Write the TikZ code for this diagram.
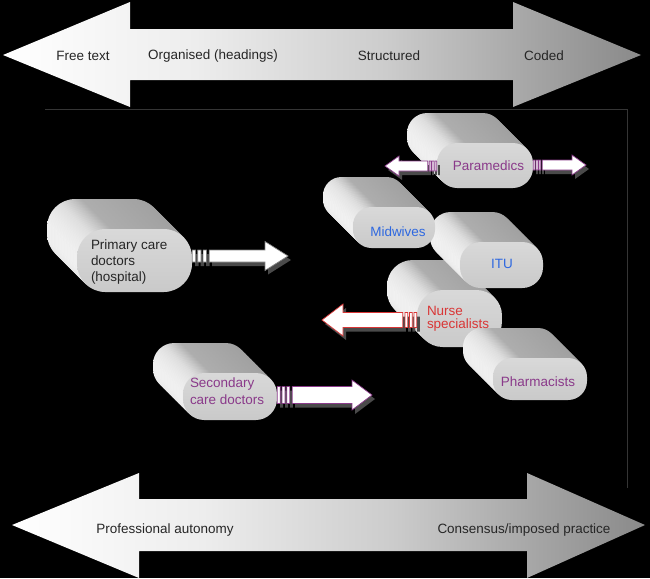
\documentclass[tikz,border=0pt]{standalone}
\usepackage{fontspec}
\setmainfont{Liberation Sans}
\usepackage{xcolor}
\usepackage{tikz}
\usetikzlibrary{calc,positioning}

\definecolor{ink}{HTML}{262626}
\definecolor{plum}{HTML}{8A3A8A}
\definecolor{sky}{HTML}{2E68E0}
\definecolor{brick}{HTML}{D93636}
\definecolor{shadowgrey}{HTML}{4A4A4A}
\definecolor{framegrey}{HTML}{353535}

% one pixel of the original figure
\newlength{\pxu}
\setlength{\pxu}{0.03cm}

\pgfdeclarehorizontalshading{bandshade}{100bp}{color(0bp)=(white); color(25bp)=(white);
  color(40bp)=(white!93!black); color(55bp)=(white!80!black);
  color(67bp)=(white!64!black); color(75bp)=(white!54!black); color(100bp)=(white!54!black)}
\pgfdeclarehorizontalshading{pillside}{100bp}{color(0bp)=(white!94!black); color(25bp)=(white!94!black);
  color(31bp)=(white!87!black); color(40bp)=(white!68!black);
  color(75bp)=(white!62!black); color(100bp)=(white!62!black)}

\tikzset{
  band/.style={shading=bandshade},
  bandtext/.style={text=ink,inner sep=0pt,font=\fontsize{11.5}{14}\selectfont},
  face/.style={top color=white!85!black,bottom color=white!79!black,inner sep=0pt},
  pilltext/.style={inner sep=0pt,align=left,font=\fontsize{11.5}{14}\selectfont},
  arrface/.style={fill=white,draw=#1,line width=0.6pt},
  arrshadow/.style={fill=shadowgrey,transform canvas={shift={(3*\pxu,-4*\pxu)}}},
  frameline/.style={draw=framegrey,line width=0.8pt},
}

% extruded capsule: name, left, top, right, bottom (px)
\newcommand{\pill}[5]{%
  \pgfmathsetmacro{\pillr}{0.45*(#5-#3)}
  \foreach \off in {30,28.5,...,1.5}
    \shade[shading=pillside,rounded corners=\pillr*\pxu]
      ({#2-\off},{#3-\off}) rectangle ({#4-\off},{#5-\off});
  \node[face,minimum width={(#4-#2)*\pxu},minimum height={(#5-#3)*\pxu},
    rounded corners=\pillr*\pxu] (#1) at ({(#2+#4)/2},{(#3+#5)/2}) {};
}

% block arrow with striped tail: from, to, half body, half head, head length, bar unit
\newcommand{\arrowshape}[6]{%
  let \p1=(#1), \p2=(#2), \n1={2*(\x2>\x1)-1} in
  ({\x1},{\y2-#3*\pxu}) rectangle ({\x1+\n1*#6*\pxu},{\y2+#3*\pxu})
  ({\x1+\n1*1.6*#6*\pxu},{\y2-#3*\pxu}) rectangle ({\x1+\n1*2.6*#6*\pxu},{\y2+#3*\pxu})
  ({\x1+\n1*3.2*#6*\pxu},{\y2-#3*\pxu}) rectangle ({\x1+\n1*4.2*#6*\pxu},{\y2+#3*\pxu})
  ({\x1+\n1*5*#6*\pxu},{\y2-#3*\pxu}) -- ({\x2-\n1*#5*\pxu},{\y2-#3*\pxu})
  -- ({\x2-\n1*#5*\pxu},{\y2-#4*\pxu}) -- (\x2,\y2)
  -- ({\x2-\n1*#5*\pxu},{\y2+#4*\pxu}) -- ({\x2-\n1*#5*\pxu},{\y2+#3*\pxu})
  -- ({\x1+\n1*5*#6*\pxu},{\y2+#3*\pxu}) -- cycle}
\newcommand{\blockarrow}[7]{%
  \path[arrshadow] \arrowshape{#2}{#3}{#4}{#5}{#6}{#7};
  \path[arrface=#1] \arrowshape{#2}{#3}{#4}{#5}{#6}{#7};
}

\begin{document}
\begin{tikzpicture}[x=0.03cm,y=-0.03cm]
  \fill[black] (0,0) rectangle (650,578);
  \useasboundingbox (0,0) rectangle (650,578);

  % record scale
  \shade[band] (3,55) -- (130,2) -- (130,29) -- (513,29) -- (513,2) -- (641,55)
    -- (513,107) -- (513,80) -- (130,80) -- (130,107) -- cycle;
  \node[bandtext] (free) at (83,56) {Free text};
  \node[bandtext] (organised) at (213,56) {Organised (headings)};
  \node[bandtext] (structured) at (389,56) {Structured};
  \node[bandtext] (coded) at (544,56) {Coded};

  % practice scale
  \shade[band] (12,525) -- (139,473) -- (139,499) -- (527,499) -- (527,473) -- (645,525)
    -- (527,578) -- (527,551) -- (139,551) -- (139,578) -- cycle;
  \node[bandtext] (autonomy) at (165,530) {Professional autonomy};
  \node[bandtext] (consensus) at (524,530) {Consensus/imposed practice};

  \draw[frameline] (45,109) -- (627,109) -- (627,488);

  % professions
  \pill{primary}{77}{229}{192}{292}
  \pill{secondary}{183}{373}{277}{420}
  \pill{nurse}{417}{290}{502}{347}
  \pill{itu}{460}{242}{543}{288}
  \pill{midwives}{353}{207}{435}{248}
  \pill{paramedics}{437}{143}{533}{188}
  \pill{pharmacists}{493}{358}{587}{400}

  % movement
  \coordinate (primary-tip) at (288,256);
  \coordinate (secondary-tip) at (372,395);
  \coordinate (nurse-tip) at (322,320);
  \coordinate (paramedics-wtip) at (385,166);
  \coordinate (paramedics-etip) at (586,165);
  \blockarrow{white!50!black}{primary.east}{primary-tip}{6}{14.5}{23}{3.4}
  \blockarrow{plum}{secondary.east}{secondary-tip}{8.5}{15}{20}{3}
  \blockarrow{brick}{nurse.west}{nurse-tip}{7.5}{16}{21}{2.8}
  \blockarrow{plum}{paramedics.west}{paramedics-wtip}{5}{10}{14}{1.8}
  \blockarrow{plum}{paramedics.east}{paramedics-etip}{5}{10}{14}{1.8}

  \node[pilltext,text=ink,anchor=west] (primary-label) at ($(primary.west)+(14,1.5)$)
    {Primary care\\doctors\\(hospital)};
  \node[pilltext,text=plum,anchor=west] (secondary-label) at ($(secondary.west)+(7,-5.5)$)
    {Secondary\\care doctors};
  \node[pilltext,text=brick,anchor=west,font=\fontsize{11.5}{11.5}\selectfont]
    (nurse-label) at ($(nurse.west)+(10,0.5)$) {Nurse\\specialists};
  \node[pilltext,text=sky] (itu-label) at ($(itu)+(0.5,-1)$) {ITU};
  \node[pilltext,text=sky] (midwives-label) at ($(midwives)+(4,4.5)$) {Midwives};
  \node[pilltext,text=plum] (paramedics-label) at ($(paramedics)+(3.5,0.5)$) {Paramedics};
  \node[pilltext,text=plum] (pharmacists-label) at ($(pharmacists)+(-2,3)$) {Pharmacists};
\end{tikzpicture}
\end{document}
